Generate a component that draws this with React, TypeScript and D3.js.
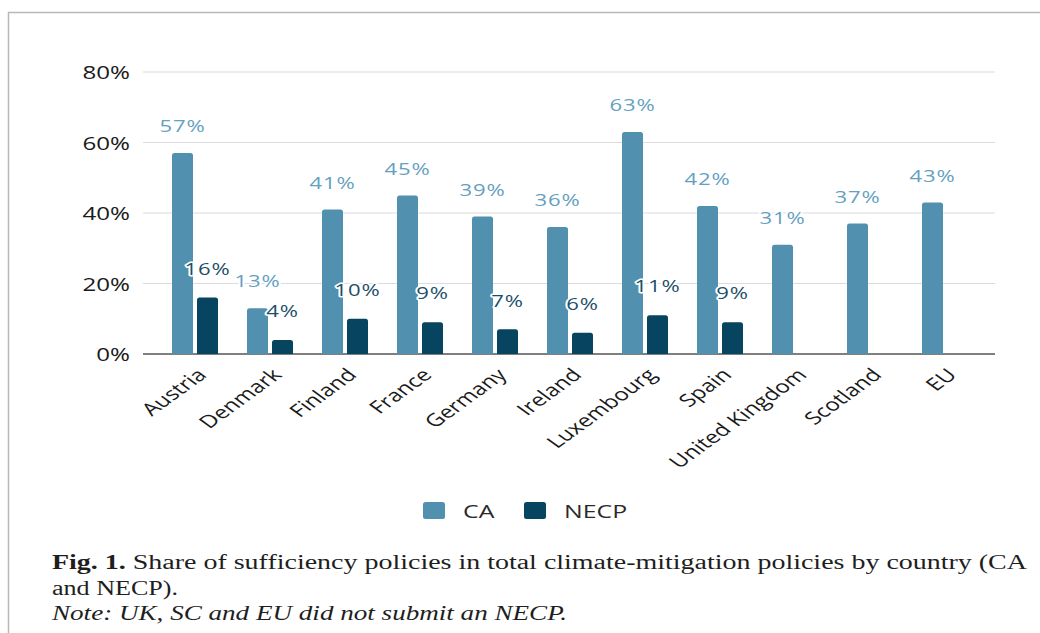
import * as d3 from 'd3'

const countries = [
  'Austria',
  'Denmark',
  'Finland',
  'France',
  'Germany',
  'Ireland',
  'Luxembourg',
  'Spain',
  'United Kingdom',
  'Scotland',
  'EU',
]
const caValues = [57, 13, 41, 45, 39, 36, 63, 42, 31, 37, 43]
const necpValues = [16, 4, 10, 9, 7, 6, 11, 9, null, null, null]
const series = ['CA', 'NECP']
const yTicks = [0, 20, 40, 60, 80]

const CA_COLOR = '#5290b0'
const NECP_COLOR = '#07445f'
const CA_LABEL = '#64a0c0'
const NECP_LABEL = '#1b4f68'
const SX = 1.38 // the source image is stretched horizontally
const FONT = "'Open Sans', 'Noto Sans', sans-serif"

const W = 1040
const H = 633

// bar with rounded top corners
function barPath(x: number, y: number, w: number, h: number, r = 2.5) {
  if (h <= 0) return ''
  const rr = Math.min(r, h, w / 2)
  return `M${x},${y + h}V${y + rr}Q${x},${y} ${x + rr},${y}H${x + w - rr}Q${x + w},${y} ${x + w},${y + rr}V${y + h}Z`
}

function StretchText({
  x,
  y,
  children,
  anchor = 'middle',
  size = 17,
  fill = '#1a1a1a',
  rotate = 0,
  halo = false,
  spacing = 0,
}: {
  x: number
  y: number
  children: string
  anchor?: string
  size?: number
  fill?: string
  rotate?: number
  halo?: boolean
  spacing?: number
}) {
  return (
    <text
      transform={`translate(${x},${y}) scale(${SX},1) rotate(${rotate})`}
      textAnchor={anchor}
      dominantBaseline={rotate ? undefined : 'central'}
      fontFamily={FONT}
      fontSize={size}
      fill={fill}
      letterSpacing={spacing}
      stroke={halo ? '#fff' : undefined}
      strokeWidth={halo ? 3 : undefined}
      paintOrder="stroke"
      strokeLinejoin="round"
    >
      {children}
    </text>
  )
}

export default function App() {
  const plotLeft = 143
  const plotRight = 995

  const x0 = d3.scaleBand<string>().domain(countries).range([157.5, 982.5])
  const x1 = d3
    .scaleBand<string>()
    .domain(series)
    .range([-23, 23])
    .paddingInner(0.16)
  const y = d3.scaleLinear().domain([0, 80]).range([354, 72])

  const groupCenter = (c: string) => x0(c)! + x0.bandwidth() / 2

  return (
    <svg
      width={W}
      height={H}
      style={{ position: 'absolute', left: 0, top: 0, background: '#fff' }}
    >
      {/* frame */}
      <line x1={8} x2={W} y1={12.5} y2={12.5} stroke="#b8b8b8" strokeWidth={1.5} />
      <line x1={8.5} x2={8.5} y1={12} y2={H} stroke="#b8b8b8" strokeWidth={1.5} />

      {/* grid */}
      {yTicks.map(t => (
        <g key={t}>
          <line
            x1={plotLeft}
            x2={plotRight}
            y1={y(t)}
            y2={y(t)}
            stroke={t === 0 ? '#555' : '#dcdcdc'}
            strokeWidth={t === 0 ? 1.5 : 1.2}
          />
          <StretchText x={130} y={y(t)} anchor="end" size={17.5}>
            {`${t}%`}
          </StretchText>
        </g>
      ))}

      {/* bars */}
      {countries.map((c, i) => {
        const cx = groupCenter(c)
        const ca = caValues[i]
        const ne = necpValues[i]
        const xa = cx + x1('CA')!
        const xn = cx + x1('NECP')!
        const bw = x1.bandwidth()
        return (
          <g key={c}>
            <path d={barPath(xa, y(ca), bw, y(0) - y(ca))} fill={CA_COLOR} />
            {ne != null && (
              <path d={barPath(xn, y(ne), bw, y(0) - y(ne))} fill={NECP_COLOR} />
            )}
          </g>
        )
      })}

      {/* value labels */}
      {countries.map((c, i) => {
        const cx = groupCenter(c)
        const ca = caValues[i]
        const ne = necpValues[i]
        const bw = x1.bandwidth()
        return (
          <g key={c + '-lab'}>
            <StretchText
              x={cx + x1('CA')! + bw / 2}
              y={y(ca) - 27}
              size={16}
              fill={CA_LABEL}
              halo
              spacing={0.6}
            >
              {`${ca}%`}
            </StretchText>
            {ne != null && (
              <StretchText
                x={cx + x1('NECP')! + bw / 2}
                y={y(ne) - 29}
                size={16}
                fill={NECP_LABEL}
                halo
                spacing={0.6}
              >
                {`${ne}%`}
              </StretchText>
            )}
          </g>
        )
      })}

      {/* x labels */}
      {countries.map(c => (
        <StretchText
          key={c + '-x'}
          x={groupCenter(c) + 13}
          y={376}
          anchor="end"
          size={17.5}
          rotate={-45}
        >
          {c}
        </StretchText>
      ))}

      {/* legend */}
      {series.map((s, i) => {
        const lx = [423, 524][i]
        return (
          <g key={s}>
            <rect
              x={lx}
              y={502}
              width={22}
              height={17}
              rx={2.5}
              fill={i === 0 ? CA_COLOR : NECP_COLOR}
            />
            <StretchText x={lx + 40} y={511} anchor="start" size={18} fill="#2a2a2a">
              {s}
            </StretchText>
          </g>
        )
      })}

      {/* caption */}
      <g fontFamily="'Liberation Serif', 'DejaVu Serif', serif" fontSize={20} fill="#1e1e1e">
        <text x={52} y={569} textLength={975} lengthAdjust="spacingAndGlyphs">
          <tspan fontWeight="bold">Fig. 1.</tspan>
          <tspan>{'  Share of sufficiency policies in total climate-mitigation policies by country (CA'}</tspan>
        </text>
        <text x={52} y={595} textLength={126} lengthAdjust="spacingAndGlyphs">
          and NECP).
        </text>
        <text
          x={52}
          y={620}
          fontStyle="italic"
          textLength={515}
          lengthAdjust="spacingAndGlyphs"
        >
          Note: UK, SC and EU did not submit an NECP.
        </text>
      </g>
    </svg>
  )
}
